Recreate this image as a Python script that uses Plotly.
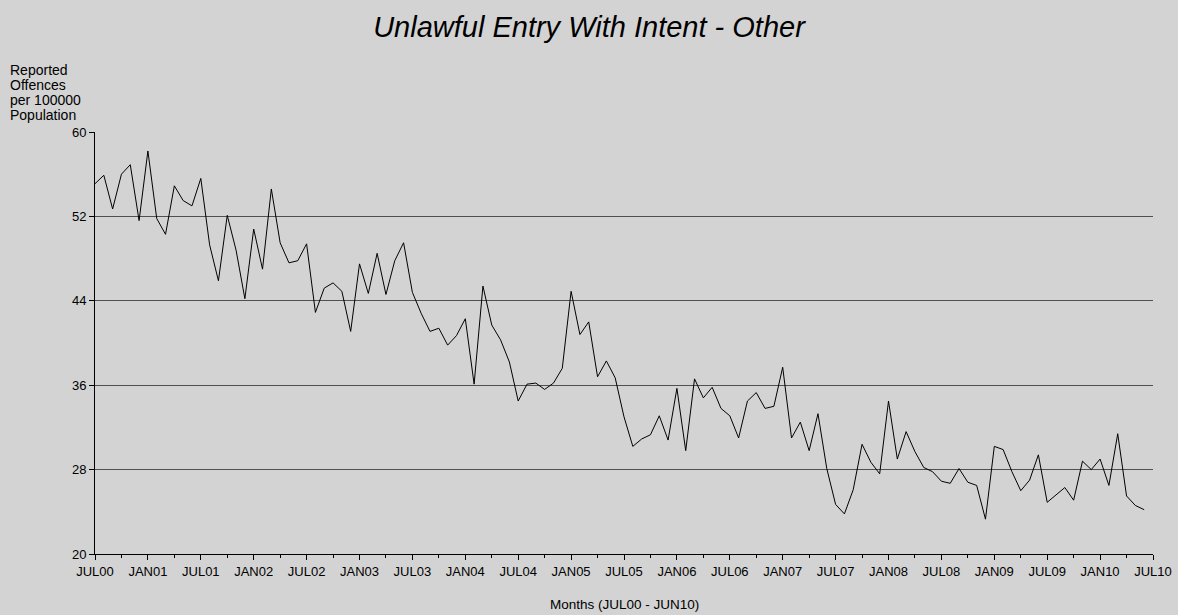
import plotly.graph_objects as go

# monthly series JUL00 .. JUN10
month_names = ["JUL", "AUG", "SEP", "OCT", "NOV", "DEC",
               "JAN", "FEB", "MAR", "APR", "MAY", "JUN"]

offences = [
    55.1, 55.9, 52.7, 56.0, 56.9, 51.6, 58.2, 51.8, 50.3, 54.9, 53.5, 53.0,
    55.6, 49.3, 45.9, 52.1, 48.8, 44.2, 50.8, 47.0, 54.6, 49.5, 47.6, 47.8,
    49.4, 42.9, 45.2, 45.7, 44.9, 41.1, 47.5, 44.7, 48.5, 44.6, 47.8, 49.5,
    44.8, 42.8, 41.1, 41.4, 39.8, 40.7, 42.3, 36.1, 45.4, 41.7, 40.3, 38.2,
    34.5, 36.1, 36.2, 35.6, 36.2, 37.6, 44.9, 40.8, 42.0, 36.8, 38.3, 36.7,
    33.0, 30.2, 30.9, 31.3, 33.1, 30.8, 35.7, 29.8, 36.6, 34.8, 35.8, 33.8,
    33.1, 31.0, 34.5, 35.3, 33.8, 34.0, 37.7, 31.0, 32.5, 29.8, 33.3, 28.1,
    24.7, 23.8, 26.1, 30.4, 28.7, 27.6, 34.5, 29.0, 31.6, 29.7, 28.2, 27.8,
    26.9, 26.7, 28.1, 26.8, 26.5, 23.3, 30.2, 29.9, 27.8, 26.0, 27.0, 29.4,
    24.9, 25.6, 26.3, 25.1, 28.8, 28.0, 29.0, 26.5, 31.4, 25.5, 24.6, 24.2,
]

tick_labels = ["JUL00", "JAN01", "JUL01", "JAN02", "JUL02", "JAN03", "JUL03",
               "JAN04", "JUL04", "JAN05", "JUL05", "JAN06", "JUL06", "JAN07",
               "JUL07", "JAN08", "JUL08", "JAN09", "JUL09", "JAN10", "JUL10"]

y_label_lines = ["Reported", "Offences", "per 100000", "Population"]

months = [month_names[i % 12] + "%02d" % ((i + 6) // 12) for i in range(len(offences))]
x_idx = list(range(len(offences)))
tick_pos = [6 * i for i in range(len(tick_labels))]

bg = "#d3d3d3"
font = "Liberation Sans, Arial, sans-serif"

fig = go.Figure()

fig.add_trace(go.Scatter(
    x=x_idx,
    y=offences,
    customdata=months,
    mode="lines",
    line={"color": "black", "width": 1},
    hovertemplate="%{customdata}: %{y}<extra></extra>",
    showlegend=False
))

# y-axis caption, one line per annotation to keep the tight line spacing
annotations = []
for k, line in enumerate(y_label_lines):
    annotations.append({
        "text": line,
        "xref": "paper", "yref": "paper",
        "x": -0.0822, "y": 1.147 - 0.0355 * k,
        "xanchor": "left", "yanchor": "middle",
        "showarrow": False,
        "font": {"size": 14}
    })

annotations.append({
    "text": "Months (JUL00 - JUN10)",
    "xref": "paper", "yref": "paper",
    "x": 0.5, "y": -0.1185,
    "xanchor": "center", "yanchor": "middle",
    "showarrow": False,
    "font": {"size": 13.5}
})

fig.update_layout(
    width=1178,
    height=615,
    paper_bgcolor=bg,
    plot_bgcolor=bg,
    font={"family": font, "size": 13, "color": "black"},
    margin={"l": 95, "r": 25, "t": 132, "b": 61},
    title={
        "text": "<i>Unlawful Entry With Intent - Other</i>",
        "x": 0.5,
        "xanchor": "center",
        "y": 0.957,
        "yanchor": "middle",
        "font": {"size": 29, "family": font, "color": "black"}
    },
    xaxis={
        "range": [0, 120],
        "tickmode": "array",
        "tickvals": tick_pos,
        "ticktext": tick_labels,
        "ticks": "outside",
        "ticklen": 5,
        "tickcolor": "black",
        "showgrid": False,
        "zeroline": False,
        "showline": True,
        "linecolor": "black",
        "linewidth": 1,
        "automargin": False,
        "minor": {"tick0": 0, "dtick": 3, "ticks": "outside",
                  "ticklen": 3, "tickcolor": "black"},
        "tickfont": {"size": 13},
    },
    yaxis={
        "range": [20, 60],
        "tick0": 20,
        "dtick": 8,
        "ticks": "outside",
        "ticklen": 5,
        "tickcolor": "black",
        "showgrid": True,
        "gridcolor": "#505050",
        "gridwidth": 1,
        "zeroline": False,
        "showline": True,
        "linecolor": "black",
        "linewidth": 1,
        "automargin": False,
        "tickfont": {"size": 13},
    },
    annotations=annotations
)

fig.write_html("out.html", config={"displayModeBar": False},
               post_script="document.body.style.margin='0';")
